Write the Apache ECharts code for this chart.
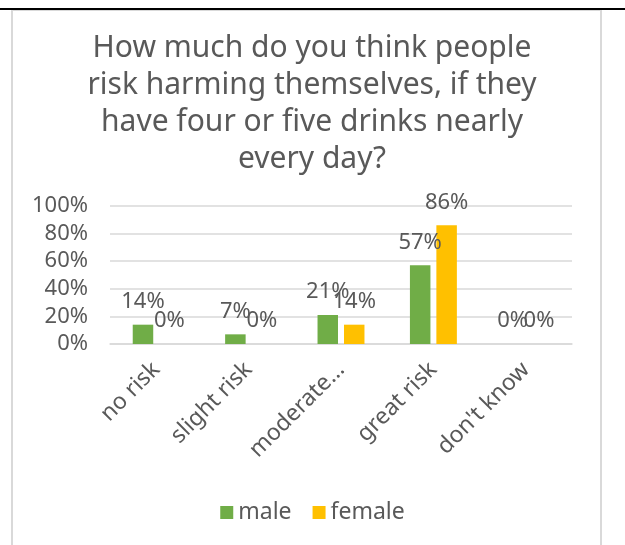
<!DOCTYPE html>
<html>
<head>
<meta charset="utf-8">
<script src="https://cdn.jsdelivr.net/npm/echarts@6/dist/echarts.min.js"></script>
<style>html,body{margin:0;padding:0;background:#fff}#c{width:625px;height:545px}</style>
</head>
<body>
<div id="c"></div>
<script>
const titleText = "How much do you think people\nrisk harming themselves, if they\nhave four or five drinks nearly\nevery day?";
const categories = ["no risk", "slight risk", "moderate…", "great risk", "don't know"];
const seriesNames = ["male", "female"];
const maleValues = [0.14, 0.07, 0.21, 0.57, 0];
const femaleValues = [0, 0, 0.14, 0.86, 0];
const yTicks = [0, 0.2, 0.4, 0.6, 0.8, 1];

const FONT = "Noto Sans";
const TXT = "#595959";
const pct = v => Math.round(v * 100) + "%";

const chart = echarts.init(document.getElementById("c"), null, {renderer: "canvas"});
const labelCfg = {
  show: true, position: "top", distance: 12,
  fontFamily: FONT, fontSize: 22, color: TXT,
  formatter: p => pct(p.value)
};
chart.setOption({
  animation: false,
  backgroundColor: "#fff",
  graphic: [
    {type: "rect", z: -10, shape: {x: 12, y: 10, width: 589, height: 600}, style: {fill: "#fff", stroke: "#D9D9D9", lineWidth: 2}},
    {type: "rect", z: -5, shape: {x: 0, y: 8, width: 625, height: 2}, style: {fill: "#000"}}
  ],
  title: {
    text: titleText,
    left: 307, top: 25, textAlign: "center",
    textStyle: {fontFamily: FONT, fontSize: 30, fontWeight: "normal", color: TXT, lineHeight: 37}
  },
  legend: {
    data: seriesNames, left: "center", top: 496,
    icon: "rect", itemWidth: 13, itemHeight: 13, itemGap: 21,
    textStyle: {fontFamily: FONT, fontSize: 23, color: TXT}
  },
  grid: {left: 110, right: 53, top: 206, bottom: 201, containLabel: false},
  xAxis: {
    type: "category", data: categories,
    axisLine: {lineStyle: {color: "#D9D9D9", width: 1.5}},
    axisTick: {show: false},
    axisLabel: {rotate: 45, margin: 22, fontFamily: FONT, fontSize: 23, color: TXT, interval: 0}
  },
  yAxis: {
    type: "value", min: yTicks[0], max: yTicks[yTicks.length - 1], interval: yTicks[1] - yTicks[0],
    axisLine: {show: false}, axisTick: {show: false},
    splitLine: {lineStyle: {color: "#D9D9D9", width: 1.5}},
    axisLabel: {margin: 22, fontFamily: FONT, fontSize: 22, color: TXT, formatter: v => pct(v)}
  },
  series: [
    {name: seriesNames[0], type: "bar", data: maleValues, barWidth: 20.5, barGap: "29%", itemStyle: {color: "#70AD47"}, label: labelCfg},
    {name: seriesNames[1], type: "bar", data: femaleValues, barWidth: 20.5, barGap: "29%", itemStyle: {color: "#FFC000"}, label: labelCfg}
  ]
});
</script>
</body>
</html>
